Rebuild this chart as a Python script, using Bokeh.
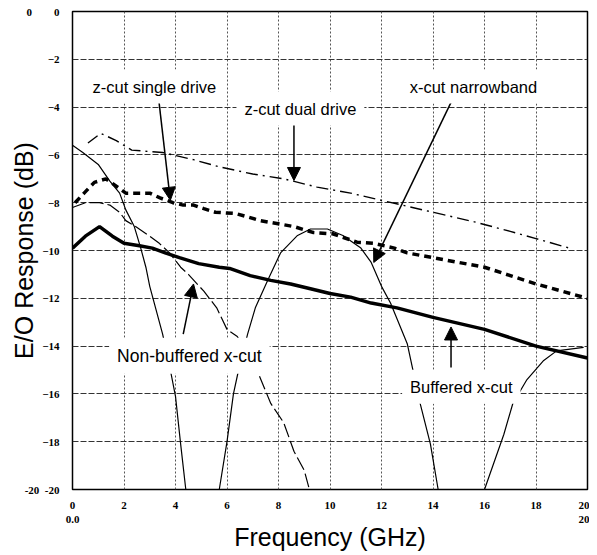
from bokeh.plotting import figure
from bokeh.models import Label, Arrow, NormalHead, FixedTicker, Range1d
from bokeh.embed import file_html
from bokeh.resources import INLINE

# ---- data ----
buf_f = [0, 0.5, 1.05, 1.55, 2.0, 2.6, 3.1, 3.6, 4.15, 4.9, 5.7, 6.1, 6.9, 7.7, 8.47, 9.24, 10.0, 10.8, 11.6, 12.6, 14.0, 16.0, 18.0, 20.0]
buf_db = [-9.9, -9.4, -9.0, -9.4, -9.7, -9.8, -9.9, -10.1, -10.3, -10.55, -10.7, -10.75, -11.05, -11.25, -11.4, -11.6, -11.8, -11.95, -12.2, -12.4, -12.8, -13.3, -14.0, -14.5]

single_f = [0.1, 0.45, 0.85, 1.3, 2.07, 2.5, 3.0, 3.4, 3.9, 4.3, 4.7, 5.1, 5.55, 6.33, 7.3, 8.08, 8.6, 9.36, 10.1, 11.05, 11.7, 12.5, 13.0, 14.0, 16.0, 18.0, 20.0]
single_db = [-8.0, -7.6, -7.15, -7.0, -7.6, -7.6, -7.6, -7.8, -8.0, -8.1, -8.1, -8.25, -8.4, -8.45, -8.75, -8.9, -9.0, -9.25, -9.3, -9.65, -9.7, -9.9, -10.1, -10.3, -10.7, -11.4, -12.0]

dual_f = [0.6, 1.1, 1.7, 2.3, 3.5, 4.7, 5.7, 7.0, 8.2, 9.5, 10.8, 12.0, 13.2, 14.4, 15.6, 17.0, 18.0, 19.3]
dual_db = [-5.5, -5.1, -5.4, -5.8, -5.9, -6.2, -6.5, -6.8, -7.0, -7.35, -7.6, -7.9, -8.2, -8.5, -8.8, -9.2, -9.5, -9.9]

nb_f = [0, 0.5, 1.05, 1.45, 1.83, 2.07, 2.45, 3.0, 3.37, 3.77, 4.2, 4.5, 5.1, 5.6, 6.0, 6.4, 7.2, 7.7, 8.2, 8.6, 9.0, 9.2]
nb_db = [-8.2, -8.0, -8.0, -8.1, -8.4, -8.75, -9.0, -9.4, -9.7, -10.1, -10.7, -11.0, -11.7, -12.4, -13.3, -13.6, -15.1, -16.4, -17.2, -18.4, -19.2, -20.0]

nar_f = [0, 0.4, 1.0, 1.45, 1.83, 2.07, 2.4, 2.65, 2.85, 3.0, 3.5, 3.8, 4.0, 4.2, 4.4, 5.7, 6.0, 6.25, 6.45, 6.8, 7.1, 7.6, 8.08, 8.74, 9.24, 9.9, 10.5, 11.2, 11.6, 12.0, 12.35, 13.0, 13.2, 13.5, 13.9, 14.2, 16.0, 16.75, 17.1, 17.65, 18.3, 18.8, 19.85]
nar_db = [-5.6, -5.9, -6.4, -7.1, -7.6, -8.3, -9.0, -9.9, -10.7, -11.5, -13.5, -15.0, -16.1, -18.1, -20.0, -20.0, -18.0, -16.0, -15.0, -13.5, -12.4, -11.2, -10.1, -9.37, -9.1, -9.1, -9.37, -9.9, -10.5, -11.5, -12.2, -13.9, -14.9, -16.4, -18.1, -20.0, -20.0, -17.7, -16.4, -15.4, -14.6, -14.2, -14.05]

x_ticks = [0, 2, 4, 6, 8, 10, 12, 14, 16, 18, 20]
y_ticks = [0, -2, -4, -6, -8, -10, -12, -14, -16, -18, -20]
# the reference repeats the end values in a second column / row
x_end_labels = {0: "0\n0.0", 20: "20\n20"}
NB = "\u00a0"
y_end_labels = {0: "0" + NB * 8 + "0", -20: "-20" + NB * 2 + "-20"}

W, H = 589, 554
p = figure(width=W, height=H, output_backend="svg", toolbar_location=None,
           x_range=Range1d(0, 20), y_range=Range1d(-20, 0),
           min_border_left=72, min_border_right=2, min_border_top=11, min_border_bottom=65)
p.background_fill_color = "white"
p.outline_line_color = "black"
p.outline_line_width = 1.5

for ax in (p.xaxis[0], p.yaxis[0]):
    ax.major_tick_in = 0
    ax.major_tick_out = 0
    ax.minor_tick_in = 0
    ax.minor_tick_out = 0
    ax.axis_line_color = None
    ax.major_label_text_font = "Liberation Serif"
    ax.major_label_text_font_style = "bold"
    ax.major_label_text_font_size = "11px"
    ax.major_label_text_color = "black"
    ax.axis_label_text_font = "Liberation Sans"
    ax.axis_label_text_font_style = "normal"
    ax.axis_label_text_font_size = "25px"
    ax.axis_label_text_color = "black"

p.xaxis.ticker = FixedTicker(ticks=x_ticks)
p.yaxis.ticker = FixedTicker(ticks=y_ticks)
p.xaxis.major_label_overrides = x_end_labels
p.yaxis.major_label_overrides = y_end_labels
p.xaxis.major_label_standoff = 9
p.yaxis.major_label_standoff = 13
p.xaxis.axis_label = "Frequency (GHz)"
p.yaxis.axis_label = "E/O Response (dB)"
p.xaxis.axis_label_standoff = -5
p.yaxis.axis_label_standoff = -16

p.xgrid.grid_line_color = "#555555"
p.xgrid.grid_line_dash = "2 2"
p.xgrid.grid_line_width = 1
p.ygrid.grid_line_color = "#333333"
p.ygrid.grid_line_dash = "6 2"
p.ygrid.grid_line_width = 1

# curves
p.line(nar_f, nar_db, line_color="black", line_width=1.2)
p.line(nb_f, nb_db, line_color="black", line_width=1.2, line_dash="14 4")
p.line(dual_f, dual_db, line_color="black", line_width=1.4, line_dash="12 5 2 5")
p.line(single_f, single_db, line_color="black", line_width=3.5, line_dash="7 5")
p.line(buf_f, buf_db, line_color="black", line_width=3.5)

# arrows
arrows = [
    (3.35, -3.7, 3.8, -7.9),
    (8.6, -4.7, 8.6, -7.07),
    (14.7, -3.8, 11.7, -10.5),
    (4.3, -13.5, 4.7, -11.4),
    (14.7, -14.9, 14.7, -13.2),
]
for xs, ys, xe, ye in arrows:
    p.add_layout(Arrow(x_start=xs, y_start=ys, x_end=xe, y_end=ye, line_width=1.5,
                       line_color="black",
                       end=NormalHead(size=13, fill_color="black", line_color="black")))

labels = [
    ("z-cut single drive", 3.18, -3.14, "16.5px"),
    ("z-cut dual drive", 8.85, -4.06, "16.5px"),
    ("x-cut narrowband", 15.57, -3.14, "16.5px"),
    ("Non-buffered x-cut", 4.54, -14.4, "17.5px"),
    ("Buffered x-cut", 15.1, -15.7, "16.5px"),
]
for t, x, y, fs in labels:
    p.add_layout(Label(x=x, y=y, text=t, text_align="center", text_baseline="middle",
                       text_font="Liberation Sans", text_font_size=fs, text_color="black",
                       background_fill_color="white", padding=8))

open("out.html", "w").write(file_html(p, INLINE))
